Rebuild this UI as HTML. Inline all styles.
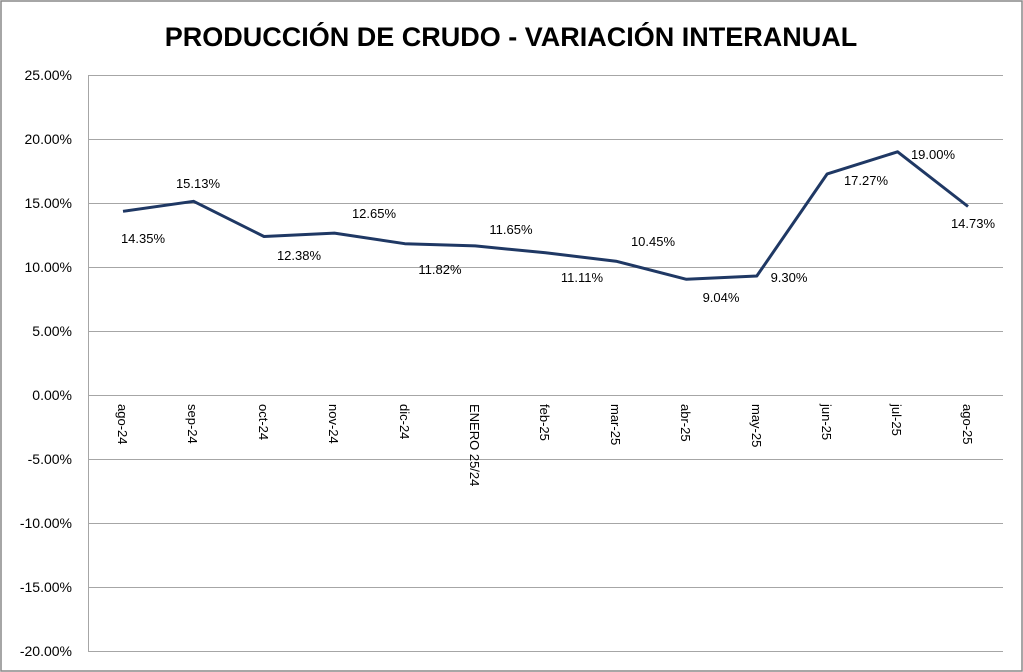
<!DOCTYPE html>
<html><head><meta charset="utf-8"><style>
body{margin:0;background:#fff}
svg{display:block;font-family:"Liberation Sans","DejaVu Sans",sans-serif}
</style></head><body>
<svg width="1023" height="672" viewBox="0 0 1023 672">
<rect x="1" y="1" width="1021" height="670" fill="#fff" stroke="#888" stroke-width="1.5"/>
<text x="511" y="46" text-anchor="middle" font-size="27" font-weight="bold" fill="#000">PRODUCCIÓN DE CRUDO - VARIACIÓN INTERANUAL</text>
<g stroke="#a6a6a6" stroke-width="1">
<line x1="88" y1="75.5" x2="1003" y2="75.5"/>
<line x1="88" y1="139.5" x2="1003" y2="139.5"/>
<line x1="88" y1="203.5" x2="1003" y2="203.5"/>
<line x1="88" y1="267.5" x2="1003" y2="267.5"/>
<line x1="88" y1="331.5" x2="1003" y2="331.5"/>
<line x1="88" y1="395.5" x2="1003" y2="395.5"/>
<line x1="88" y1="459.5" x2="1003" y2="459.5"/>
<line x1="88" y1="523.5" x2="1003" y2="523.5"/>
<line x1="88" y1="587.5" x2="1003" y2="587.5"/>
<line x1="88" y1="651.5" x2="1003" y2="651.5"/>
<line x1="88.5" y1="75" x2="88.5" y2="651"/>
</g>
<g font-size="14" fill="#000" text-anchor="end">
<text x="72" y="80">25.00%</text>
<text x="72" y="144">20.00%</text>
<text x="72" y="208">15.00%</text>
<text x="72" y="272">10.00%</text>
<text x="72" y="336">5.00%</text>
<text x="72" y="400">0.00%</text>
<text x="72" y="464">-5.00%</text>
<text x="72" y="528">-10.00%</text>
<text x="72" y="592">-15.00%</text>
<text x="72" y="656">-20.00%</text>
</g>
<g font-size="13" fill="#000">
<text transform="translate(118,404) rotate(90)">ago-24</text>
<text transform="translate(188,404) rotate(90)">sep-24</text>
<text transform="translate(259,404) rotate(90)">oct-24</text>
<text transform="translate(329,404) rotate(90)">nov-24</text>
<text transform="translate(400,404) rotate(90)">dic-24</text>
<text transform="translate(470,404) rotate(90)">ENERO 25/24</text>
<text transform="translate(540,404) rotate(90)">feb-25</text>
<text transform="translate(611,404) rotate(90)">mar-25</text>
<text transform="translate(681,404) rotate(90)">abr-25</text>
<text transform="translate(752,404) rotate(90)">may-25</text>
<text transform="translate(822,404) rotate(90)">jun-25</text>
<text transform="translate(892,404) rotate(90)">jul-25</text>
<text transform="translate(963,404) rotate(90)">ago-25</text>
</g>
<polyline fill="none" stroke="#1f3864" stroke-width="3" stroke-linejoin="round"
points="123,211.3 193.6,201.3 264,236.5 334.4,233.1 404.8,243.7 475.2,245.9 545.6,252.8 616,261.2 686.4,279.3 756.8,276 827.2,173.9 897.6,151.8 968,206.5"/>
<g font-size="13" fill="#000" text-anchor="middle">
<text x="143" y="243">14.35%</text>
<text x="198" y="188">15.13%</text>
<text x="299" y="260">12.38%</text>
<text x="374" y="218">12.65%</text>
<text x="440" y="274">11.82%</text>
<text x="511" y="234">11.65%</text>
<text x="582" y="282">11.11%</text>
<text x="653" y="246">10.45%</text>
<text x="721" y="302">9.04%</text>
<text x="789" y="282">9.30%</text>
<text x="866" y="185">17.27%</text>
<text x="933" y="159">19.00%</text>
<text x="973" y="228">14.73%</text>
</g>
</svg>
</body></html>
